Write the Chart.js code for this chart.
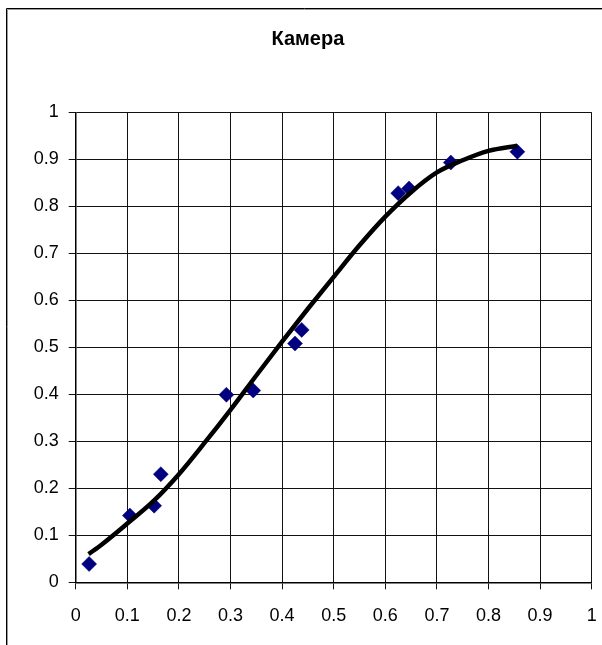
<!DOCTYPE html>
<html>
<head>
<meta charset="utf-8">
<script src="https://cdn.jsdelivr.net/npm/chart.js@4/dist/chart.umd.min.js"></script>
<style>
  html, body { margin: 0; padding: 0; background: #fff; }
  #wrap { position: relative; width: 602px; height: 645px; }
</style>
</head>
<body>
<div id="wrap"><canvas id="c" width="602" height="645"></canvas></div>
<script>
const chartTitle = 'Камера';
const xTickLabels = ['0', '0.1', '0.2', '0.3', '0.4', '0.5', '0.6', '0.7', '0.8', '0.9', '1'];
const yTickLabels = ['0', '0.1', '0.2', '0.3', '0.4', '0.5', '0.6', '0.7', '0.8', '0.9', '1'];

const pointsX = [0.026, 0.105, 0.152, 0.165, 0.292, 0.344, 0.425, 0.438, 0.625, 0.646, 0.727, 0.856];
const pointsY = [0.039, 0.142, 0.163, 0.230, 0.399, 0.408, 0.508, 0.537, 0.828, 0.838, 0.893, 0.916];

const trendX = [0.025, 0.05, 0.1, 0.15, 0.2, 0.25, 0.3, 0.35, 0.4, 0.45, 0.5, 0.55, 0.6, 0.65, 0.7, 0.75, 0.8, 0.856];
const trendY = [0.060, 0.080, 0.125, 0.172, 0.230, 0.297, 0.367, 0.440, 0.512, 0.582, 0.650, 0.717, 0.778, 0.830, 0.872, 0.898, 0.918, 0.929];

const scatterData = pointsX.map((x, i) => ({ x: x, y: pointsY[i] }));
const trendData = trendX.map((x, i) => ({ x: x, y: trendY[i] }));

const frame = {
  id: 'frame',
  beforeDraw(chart) {
    const ctx = chart.ctx;
    ctx.save();
    ctx.fillStyle = '#fff';
    ctx.fillRect(0, 0, chart.width, chart.height);
    ctx.lineWidth = 1;
    ctx.strokeStyle = '#000';
    ctx.beginPath();
    ctx.moveTo(6.5, chart.height);
    ctx.lineTo(6.5, 8.5);
    ctx.lineTo(chart.width, 8.5);
    ctx.stroke();
    ctx.strokeStyle = '#999';
    ctx.beginPath();
    ctx.moveTo(7.5, chart.height);
    ctx.lineTo(7.5, 9.5);
    ctx.lineTo(chart.width, 9.5);
    ctx.stroke();
    ctx.restore();
  }
};

const tickFont = { family: 'Arial, "Liberation Sans", sans-serif', size: 18 };

new Chart(document.getElementById('c'), {
  type: 'scatter',
  data: {
    datasets: [
      {
        label: 'trend',
        data: trendData,
        showLine: true,
        borderColor: '#000',
        borderWidth: 4.5,
        pointRadius: 0,
        pointHoverRadius: 0,
        cubicInterpolationMode: 'monotone',
        fill: false,
        order: 0
      },
      {
        label: 'points',
        data: scatterData,
        showLine: false,
        pointStyle: 'rectRot',
        pointRadius: 7.5,
        pointHoverRadius: 7.5,
        pointBackgroundColor: '#000080',
        pointBorderColor: '#000080',
        pointBorderWidth: 0.5,
        order: 1
      }
    ]
  },
  options: {
    responsive: false,
    animation: false,
    events: [],
    layout: { padding: { left: 24, right: 10.3, top: 8, bottom: 0 } },
    plugins: {
      legend: { display: false },
      tooltip: { enabled: false },
      title: {
        display: true,
        text: chartTitle,
        color: '#000',
        font: { family: 'Arial, "Liberation Sans", sans-serif', size: 20, weight: 'bold' },
        padding: { top: 19, bottom: 61.3 }
      }
    },
    scales: {
      x: {
        type: 'linear',
        min: 0,
        max: 1,
        afterFit(s) { s.height = 62.7; s.paddingLeft = 0; s.paddingRight = 0; },
        afterBuildTicks(s) { s.ticks = xTickLabels.map((t, i) => ({ value: i / 10 })); },
        ticks: {
          color: '#000',
          font: tickFont,
          padding: 16,
          maxRotation: 0,
          autoSkip: false,
          callback: (v, i) => xTickLabels[i]
        },
        grid: { color: '#111', lineWidth: 1, tickLength: 7, drawTicks: true },
        border: { display: true, color: '#000', width: 1.5 }
      },
      y: {
        type: 'linear',
        min: 0,
        max: 1,
        afterFit(s) { s.width = 51.7; s.paddingTop = 0; s.paddingBottom = 0; },
        afterBuildTicks(s) { s.ticks = yTickLabels.map((t, i) => ({ value: i / 10 })); },
        ticks: {
          color: '#000',
          font: tickFont,
          padding: 10,
          autoSkip: false,
          callback: (v, i) => yTickLabels[i]
        },
        grid: { color: '#111', lineWidth: 1, tickLength: 7, drawTicks: true },
        border: { display: true, color: '#000', width: 1.5 }
      }
    }
  },
  plugins: [frame]
});
</script>
</body>
</html>
